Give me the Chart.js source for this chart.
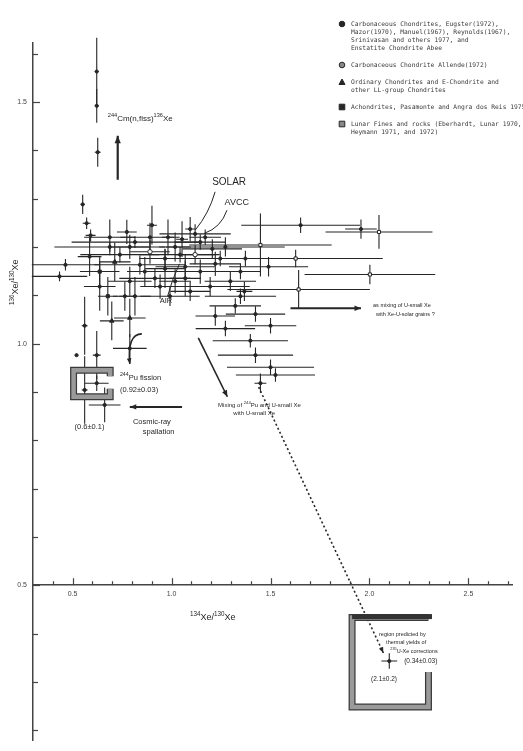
<!DOCTYPE html>
<html>
<head>
<meta charset="utf-8">
<script src="https://cdn.jsdelivr.net/npm/chart.js@4.4.0/dist/chart.umd.min.js"></script>
<style>
  html, body { margin: 0; padding: 0; background: #fff; }
  #wrap { width: 523px; height: 751px; position: relative; }
</style>
</head>
<body>
<div id="wrap"><canvas id="chart"></canvas></div>
<script>
// values: ratio x, ratio y, error x, error y, group
// groups: c carbonaceous, a allende, o ordinary, d achondrite, l lunar
const ptX = [0.622, 0.622, 0.627, 0.551, 0.571, 0.591, 0.901, 0.774, 0.982, 1.053,
  1.094, 0.688, 0.815, 0.464, 0.434, 0.891, 0.967, 1.018, 1.069, 1.119,
  1.145, 1.170, 1.206, 1.246, 0.865, 0.942, 0.789, 0.713, 0.637, 1.018,
  1.094, 1.348, 1.297, 1.449, 2.048, 1.957, 1.627, 2.002, 1.642, 1.490,
  1.652, 1.272, 1.398, 1.424, 1.500, 1.525, 1.449, 1.368, 1.322, 1.221,
  0.561, 0.561, 0.622, 0.698, 0.789, 0.789, 0.622, 0.662, 0.520, 0.764,
  0.678, 2.100, 0.739, 0.840, 0.916, 1.043, 1.145, 1.195, 1.272, 1.373,
  0.992, 0.815, 0.891, 0.688, 1.119, 1.348, 1.424, 1.500, 0.637, 0.586,
  0.967, 1.069, 0.789, 1.221];
const ptY = [1.563, 1.492, 1.396, 1.288, 1.249, 1.224, 1.245, 1.231, 1.220, 1.216,
  1.237, 1.200, 1.210, 1.163, 1.139, 1.190, 1.176, 1.200, 1.159, 1.184,
  1.210, 1.220, 1.196, 1.176, 1.149, 1.118, 1.129, 1.169, 1.149, 1.129,
  1.108, 1.149, 1.129, 1.204, 1.231, 1.237, 1.176, 1.143, 1.112, 1.159,
  1.245, 1.031, 1.006, 0.976, 0.951, 0.935, 0.918, 1.108, 1.078, 1.057,
  1.037, 0.904, 0.976, 1.047, 1.053, 0.990, 0.918, 0.873, 0.976, 1.098,
  1.098, 0.343, 1.184, 1.163, 1.135, 1.184, 1.149, 1.118, 1.200, 1.176,
  1.098, 1.098, 1.220, 1.220, 1.227, 1.098, 1.061, 1.037, 1.118, 1.180,
  1.155, 1.135, 1.200, 1.165];
const errX = [0.010, 0.010, 0.015, 0.010, 0.020, 0.025, 0.025, 0.050, 0.030, 0.030,
  0.025, 0.280, 0.320, 0.170, 0.140, 0.100, 0.130, 0.080, 0.150, 0.100,
  0.130, 0.080, 0.150, 0.180, 0.090, 0.100, 0.110, 0.080, 0.100, 0.080,
  0.100, 0.100, 0.130, 0.360, 0.270, 0.080, 0.440, 0.330, 0.360, 0.200,
  0.300, 0.150, 0.190, 0.190, 0.220, 0.200, 0.030, 0.040, 0.130, 0.100,
  0.015, 0.015, 0.020, 0.060, 0.080, 0.085, 0.060, 0.080, 0, 0.060,
  0.050, 0.040, 0.200, 0.230, 0.180, 0.200, 0.230, 0.200, 0.300, 0.280,
  0.150, 0.080, 0.150, 0.130, 0.180, 0.180, 0.150, 0.130, 0.080, 0.060,
  0.100, 0.080, 0.100, 0.130];
const errY = [0.070, 0.035, 0.030, 0.020, 0.012, 0.012, 0.040, 0.025, 0.037, 0.037,
  0.025, 0.010, 0.012, 0.012, 0.010, 0.025, 0.020, 0.030, 0.025, 0.020,
  0.016, 0.016, 0.020, 0.016, 0.030, 0.025, 0.030, 0.040, 0.030, 0.025,
  0.020, 0.016, 0.020, 0.065, 0.035, 0.020, 0.018, 0.020, 0.040, 0.020,
  0.016, 0.016, 0.014, 0.016, 0.016, 0.014, 0.020, 0.020, 0.016, 0.020,
  0.060, 0.070, 0.050, 0.040, 0.040, 0.030, 0.016, 0.036, 0, 0.030,
  0.040, 0.016, 0.016, 0.020, 0.020, 0.016, 0.025, 0.020, 0.020, 0.016,
  0.020, 0.040, 0.030, 0.037, 0.020, 0.016, 0.016, 0.016, 0.050, 0.040,
  0.040, 0.037, 0.025, 0.025];
const ptKind = ['c', 'c', 'c', 'c', 'c', 'c', 'c', 'c', 'c', 'c',
  'c', 'c', 'c', 'c', 'c', 'a', 'c', 'c', 'c', 'a',
  'c', 'c', 'c', 'c', 'c', 'c', 'c', 'o', 'd', 'c',
  'c', 'c', 'c', 'l', 'l', 'c', 'l', 'l', 'l', 'c',
  'c', 'c', 'c', 'c', 'c', 'c', 'c', 'c', 'c', 'c',
  'c', 'c', 'c', 'o', 'o', 'c', 'c', 'c', 'c', 'c',
  'd', 'c', 'c', 'c', 'c', 'c', 'c', 'c', 'c', 'c',
  'c', 'c', 'c', 'c', 'c', 'c', 'c', 'c', 'c', 'c',
  'c', 'c', 'c', 'c'];

// mixing line towards the predicted region
const mixX = [1.44, 2.07];
const mixY = [0.91, 0.36];

const xTickLabels = ['0.5', '1.0', '1.5', '2.0', '2.5'];
const yTickLabels = ['0.5', '1.0', '1.5'];

const legendRows = [
  { kind: 'c', lines: ['Carbonaceous Chondrites, Eugster(1972),', 'Mazor(1970), Manuel(1967), Reynolds(1967),', 'Srinivasan and others 1977, and', 'Enstatite Chondrite Abee'] },
  { kind: 'a', lines: ['Carbonaceous Chondrite Allende(1972)'] },
  { kind: 'o', lines: ['Ordinary Chondrites and E-Chondrite and', 'other LL-group Chondrites'] },
  { kind: 'd', lines: ['Achondrites, Pasamonte and Angra dos Reis 1975'] },
  { kind: 'l', lines: ['Lunar Fines and rocks (Eberhardt, Lunar 1970,', 'Heymann 1971, and 1972)'] },
];

const INK = '#262626';
const SANS = '"Liberation Sans", Arial, sans-serif';
const MONO = '"DejaVu Sans Mono", monospace';

const kindStyle = {
  c: { pointStyle: 'circle', radius: 1.6, bg: INK },
  a: { pointStyle: 'circle', radius: 2.2, bg: '#fff' },
  o: { pointStyle: 'triangle', radius: 2.6, bg: INK },
  d: { pointStyle: 'rect', radius: 2.2, bg: INK },
  l: { pointStyle: 'rect', radius: 2.2, bg: '#fff' },
};

function groupData(kind) {
  return ptX.map((v, i) => ({ x: v, y: ptY[i], k: ptKind[i] })).filter(p => p.k === kind);
}

function richText(ctx, str, x, y, size, family) {
  str.split(/(\{[^}]*\})/).forEach(part => {
    if (!part) return;
    const sup = part[0] === '{';
    const txt = sup ? part.slice(1, -1) : part;
    ctx.font = (sup ? size * 0.7 : size) + 'px ' + family;
    ctx.fillText(txt, x, sup ? y - size * 0.4 : y);
    x += ctx.measureText(txt).width;
  });
}

function arrow(ctx, x0, y0, x1, y1, head, width) {
  ctx.lineWidth = width;
  ctx.beginPath(); ctx.moveTo(x0, y0); ctx.lineTo(x1, y1); ctx.stroke();
  const a = Math.atan2(y1 - y0, x1 - x0);
  ctx.beginPath();
  ctx.moveTo(x1, y1);
  ctx.lineTo(x1 - head * Math.cos(a - 0.4), y1 - head * Math.sin(a - 0.4));
  ctx.lineTo(x1 - head * Math.cos(a + 0.4), y1 - head * Math.sin(a + 0.4));
  ctx.closePath(); ctx.fill();
}

function marker(ctx, kind, x, y) {
  const s = kindStyle[kind];
  ctx.lineWidth = 1;
  ctx.strokeStyle = INK;
  ctx.fillStyle = s.bg === '#fff' ? '#888' : INK;
  ctx.beginPath();
  if (s.pointStyle === 'circle') ctx.arc(x, y, 2.8, 0, Math.PI * 2);
  else if (s.pointStyle === 'triangle') { ctx.moveTo(x, y - 3); ctx.lineTo(x + 3, y + 2.5); ctx.lineTo(x - 3, y + 2.5); ctx.closePath(); }
  else ctx.rect(x - 2.8, y - 2.8, 5.6, 5.6);
  ctx.fill(); ctx.stroke();
}

const errorBars = {
  id: 'errorBars',
  beforeDatasetsDraw(chart) {
    const { ctx, scales: { x, y } } = chart;
    ctx.save();
    ctx.strokeStyle = INK;
    ctx.lineWidth = 1.1;
    ptX.forEach((v, i) => {
      const px = x.getPixelForValue(v), py = y.getPixelForValue(ptY[i]);
      ctx.beginPath();
      ctx.moveTo(x.getPixelForValue(v - errX[i]), py);
      ctx.lineTo(x.getPixelForValue(v + errX[i]), py);
      ctx.moveTo(px, y.getPixelForValue(ptY[i] - errY[i]));
      ctx.lineTo(px, y.getPixelForValue(ptY[i] + errY[i]));
      ctx.stroke();
    });
    ctx.restore();
  }
};

const tickMarks = {
  id: 'tickMarks',
  afterDraw(chart) {
    const { ctx, scales: { x, y } } = chart;
    const x0 = x.getPixelForValue(0.3), y0 = y.getPixelForValue(0.5);
    ctx.save();
    ctx.strokeStyle = '#444';
    ctx.lineWidth = 1.2;
    x.ticks.forEach(t => {
      if (t.value < 0.35) return;
      const px = Math.round(x.getPixelForValue(t.value)) + 0.5;
      const len = t.label ? 7 : 4;
      ctx.beginPath(); ctx.moveTo(px, y0); ctx.lineTo(px, y0 - len); ctx.stroke();
    });
    y.ticks.forEach(t => {
      const py = Math.round(y.getPixelForValue(t.value)) + 0.5;
      const len = t.label ? 7 : 5;
      ctx.beginPath(); ctx.moveTo(x0, py); ctx.lineTo(x0 + len, py); ctx.stroke();
    });
    ctx.restore();
  }
};

const notes = {
  id: 'notes',
  afterDraw(chart) {
    const { ctx, scales: { x, y } } = chart;
    const P = (a, b) => [x.getPixelForValue(a), y.getPixelForValue(b)];
    ctx.save();
    ctx.fillStyle = INK;
    ctx.strokeStyle = INK;
    ctx.textBaseline = 'middle';
    ctx.textAlign = 'left';

    // axis titles
    ctx.save();
    ctx.translate(16, 305);
    ctx.rotate(-Math.PI / 2);
    richText(ctx, '{136}Xe/{130}Xe', 0, 0, 9, SANS);
    ctx.restore();
    richText(ctx, '{134}Xe/{130}Xe', 190, 618, 9, SANS);

    // text labels placed in data coordinates
    const labels = [
      ['{244}Cm(n,fiss){136}Xe', 0.678, 1.465, 8],
      ['SOLAR', 1.205, 1.333, 10],
      ['AVCC', 1.268, 1.292, 9],
      ['AIR', 0.94, 1.088, 7.5],
      ['{244}Pu fission', 0.739, 0.929, 7.5],
      ['(0.92\u00b10.03)', 0.739, 0.904, 7.5],
      ['(0.6\u00b10.1)', 0.51, 0.827, 7.5],
      ['Cosmic-ray', 0.805, 0.838, 7.5],
      ['spallation', 0.855, 0.817, 7.5],
      ['Mixing of {244}Pu and U-small Xe', 1.235, 0.873, 6],
      ['with U-small Xe', 1.312, 0.855, 6],
      ['as mixing of U-small Xe', 2.018, 1.078, 5.5],
      ['with Xe-U-solar grains ?', 2.033, 1.061, 5.5],
      ['region predicted by', 2.048, 0.398, 5.5],
      ['thermal yields of', 2.084, 0.382, 5.5],
      ['{235}U-Xe corrections', 2.105, 0.363, 5.5],
      ['(0.34\u00b10.03)', 2.175, 0.342, 6.5],
      ['(2.1\u00b10.2)', 2.008, 0.306, 6.5],
    ];
    labels.forEach(([t, a, b, s]) => {
      const [px, py] = P(a, b);
      richText(ctx, t, px, py, s, SANS);
    });

    // leader lines for SOLAR, AVCC, AIR
    ctx.lineWidth = 1;
    const leader = (a, c, b) => {
      const p0 = P(...a), p1 = P(...c), p2 = P(...b);
      ctx.beginPath(); ctx.moveTo(...p0); ctx.quadraticCurveTo(...p1, ...p2); ctx.stroke();
    };
    leader([1.22, 1.314], [1.19, 1.27], [1.12, 1.235]);
    leader([1.28, 1.276], [1.25, 1.24], [1.165, 1.228]);
    leader([0.98, 1.098], [1.0, 1.13], [1.04, 1.165]);

    // arrows
    ctx.fillStyle = INK;
    arrow(ctx, ...P(0.728, 1.339), ...P(0.728, 1.43), 8, 2.2);
    arrow(ctx, ...P(1.135, 1.012), ...P(1.282, 0.89), 7, 1.6);
    arrow(ctx, ...P(1.053, 0.869), ...P(0.789, 0.869), 7, 2);
    arrow(ctx, ...P(1.601, 1.073), ...P(1.957, 1.073), 7, 2);
    const c0 = P(0.85, 1.02), c1 = P(0.775, 1.02), c2 = P(0.789, 0.958);
    ctx.lineWidth = 1.6;
    ctx.beginPath(); ctx.moveTo(...c0); ctx.quadraticCurveTo(...c1, ...c2); ctx.stroke();
    arrow(ctx, c2[0] - 0.5, c2[1] - 4, ...c2, 6, 1);
    const m0 = P(mixX[0], mixY[0]), m1 = P(mixX[1], mixY[1]);
    arrow(ctx, m1[0] - (m1[0] - m0[0]) * 0.02, m1[1] - (m1[1] - m0[1]) * 0.02, ...m1, 6, 1);

    // grey frames
    const frame = (pts) => {
      ctx.lineJoin = 'miter';
      ctx.strokeStyle = '#3a3a3a'; ctx.lineWidth = 7;
      ctx.beginPath(); pts.forEach((p, i) => i ? ctx.lineTo(...p) : ctx.moveTo(...p)); ctx.stroke();
      ctx.strokeStyle = '#9a9a9a'; ctx.lineWidth = 4.5;
      ctx.beginPath(); pts.forEach((p, i) => i ? ctx.lineTo(...p) : ctx.moveTo(...p)); ctx.stroke();
    };
    const [fx0, fy0] = P(0.505, 0.945), [fx1, fy1] = P(0.69, 0.89);
    frame([[fx1, fy0 + 6], [fx1, fy0], [fx0, fy0], [fx0, fy1], [fx1, fy1], [fx1, fy1 - 8]]);
    const [gx0, gy0] = P(1.912, 0.433), [gx1, gy1] = P(2.298, 0.248);
    frame([[gx1, gy1 - 35], [gx1, gy1], [gx0, gy1], [gx0, gy0], [gx1, gy0]]);
    ctx.fillStyle = '#333';
    ctx.fillRect(gx0, gy0 - 3.5, gx1 - gx0 + 3.5, 5);

    // legend block
    let ly = 24;
    legendRows.forEach(row => {
      marker(ctx, row.kind, 342, ly);
      ctx.fillStyle = '#3a3a3a';
      ctx.font = '6.3px ' + MONO;
      row.lines.forEach((line, i) => {
        ctx.fillText(line, 351, ly + i * 8);
      });
      ly += row.lines.length * 8 + 9;
    });
    ctx.restore();
  }
};

const datasets = Object.keys(kindStyle).map(kind => ({
  type: 'scatter',
  data: groupData(kind),
  pointStyle: kindStyle[kind].pointStyle,
  pointRadius: kindStyle[kind].radius,
  pointBackgroundColor: kindStyle[kind].bg,
  pointBorderColor: INK,
  pointBorderWidth: 1,
}));
datasets.push({
  type: 'line',
  data: mixX.map((v, i) => ({ x: v, y: mixY[i] })),
  borderColor: INK,
  borderWidth: 1.6,
  borderDash: [2, 2.5],
  pointRadius: 0,
});

new Chart(document.getElementById('chart'), {
  data: { datasets },
  options: {
    responsive: true,
    maintainAspectRatio: false,
    animation: false,
    layout: { padding: { top: 43, right: 11, bottom: 0, left: 0 } },
    plugins: { legend: { display: false }, tooltip: { enabled: false } },
    scales: {
      x: {
        type: 'linear',
        min: 0.3,
        max: 2.72,
        position: { y: 0.5 },
        grid: { display: false, drawTicks: false },
        border: { display: true, color: '#444', width: 1.5 },
        ticks: {
          stepSize: 0.1,
          includeBounds: false,
          autoSkip: false,
          maxRotation: 0,
          padding: 5,
          color: '#444',
          font: { size: 7, family: SANS },
          callback: v => xTickLabels.includes(v.toFixed(1)) ? v.toFixed(1) : ''
        }
      },
      y: {
        type: 'linear',
        min: 0.178,
        max: 1.622,
        position: 'left',
        grid: { display: false, drawTicks: false },
        border: { display: true, color: '#444', width: 1.5 },
        afterFit: s => { s.width = 33; },
        ticks: {
          stepSize: 0.1,
          includeBounds: false,
          autoSkip: false,
          padding: 6,
          color: '#444',
          font: { size: 7, family: SANS },
          callback: v => yTickLabels.includes(v.toFixed(1)) ? v.toFixed(1) : ''
        }
      }
    }
  },
  plugins: [errorBars, tickMarks, notes]
});
</script>
</body>
</html>
